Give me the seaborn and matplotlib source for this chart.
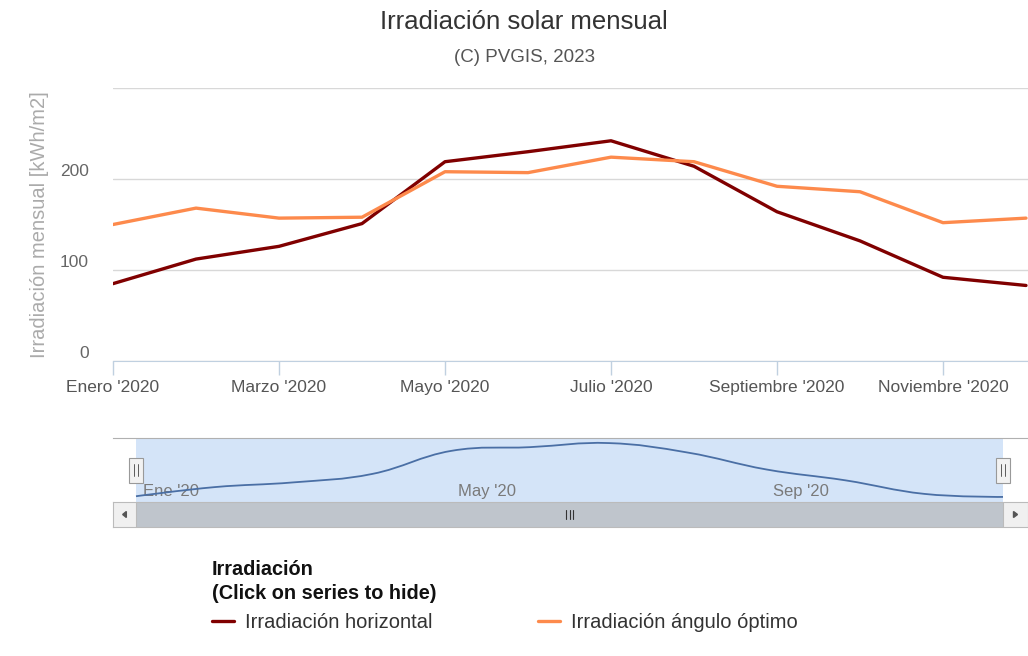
import numpy as np
import matplotlib
matplotlib.use('Agg')
import matplotlib.pyplot as plt
from matplotlib.patches import Rectangle, PathPatch, Polygon
from matplotlib.path import Path
import pandas as pd
import seaborn as sns

# datos mensuales (kWh/m2)
meses = ['Enero', 'Febrero', 'Marzo', 'Abril', 'Mayo', 'Junio', 'Julio',
         'Agosto', 'Septiembre', 'Octubre', 'Noviembre', 'Diciembre']
meses_nav = ["Ene '20", "May '20", "Sep '20"]
horizontal = [85, 112, 126, 151, 219, 230, 242, 214, 164, 132, 92, 83]
optimo = [150, 168, 157, 158, 208, 207, 224, 219, 192, 186, 152, 157]
series = ['Irradiación horizontal', 'Irradiación ángulo óptimo']
colores = ['#800000', '#fd8a4c']

sns.set_style('white')
plt.rcParams['font.family'] = ['Liberation Sans', 'DejaVu Sans']

W, H = 1028, 656
fig = plt.figure(figsize=(W / 100, H / 100), dpi=100)

def box(x0, y0, x1, y1):
    return [x0 / W, 1 - y1 / H, (x1 - x0) / W, (y1 - y0) / H]

idx = np.arange(len(meses))
df = pd.DataFrame({
    'mes': np.concatenate([idx, idx]),
    'valor': horizontal + optimo,
    'serie': [series[0]] * 12 + [series[1]] * 12,
})

# grafico principal
ax = fig.add_axes(box(113, 88, 1028, 361))
sns.lineplot(data=df, x='mes', y='valor', hue='serie', hue_order=series,
             palette=colores, linewidth=2.4, ax=ax, legend=False)
ax.set_xlim(0, 11 * 915 / 913)
ax.set_ylim(0, 300)
ax.set_yticks([0, 100, 200, 300])
ax.set_yticklabels(['0', '100', '200', ''])
ax.set_xticks(idx[::2])
ax.set_xticklabels([m + " '2020" for m in meses[::2]])
ax.grid(axis='y', color='#d8d8d8', lw=1)
ax.grid(axis='x', visible=False)
for s in ['left', 'top', 'right']:
    ax.spines[s].set_visible(False)
ax.spines['bottom'].set_color('#c0d0e0')
ax.tick_params(axis='x', bottom=True, length=10, width=1, color='#c0d0e0',
               pad=4, labelsize=12.5, labelcolor='#555555')
ax.tick_params(axis='y', left=False, pad=14, labelsize=12.5, labelcolor='#666666')
for lab in ax.get_yticklabels():
    lab.set_va('bottom')
ax.set_xlabel('')
ax.set_ylabel('Irradiación mensual [kWh/m2]', fontsize=14.5, color='#ababab', labelpad=8)

fig.text(524 / W, 1 - 22 / H, 'Irradiación solar mensual', ha='center', va='center',
         fontsize=18.5, color='#333333')
fig.text(525 / W, 1 - 58 / H, '(C) PVGIS, 2023', ha='center', va='center',
         fontsize=13.5, color='#555555')

# navegador
x_lo, x_hi = -23 * 11 / 867, 11 + 25 * 11 / 867
nav = fig.add_axes(box(113, 438, 1028, 502))
nav.set_xlim(x_lo, x_hi)
nav.set_ylim(68, 257)
nav.axvspan(0, 11, color='#d4e4f8', lw=0, zorder=0)
for s in ['left', 'right', 'bottom']:
    nav.spines[s].set_visible(False)
nav.spines['top'].set_color('#b0b0b0')
nav.set_xticks([])
nav.set_yticks([])

# curva suave del navegador (bezier a partir de los datos)
px = idx.astype(float)
py = np.array(horizontal, dtype=float)
lc, rc_ = [], []
for i in range(len(px)):
    if i == 0 or i == len(px) - 1:
        lc.append((px[i], py[i]))
        rc_.append((px[i], py[i]))
        continue
    lx = (1.5 * px[i] + px[i - 1]) / 2.5
    ly = (1.5 * py[i] + py[i - 1]) / 2.5
    rx = (1.5 * px[i] + px[i + 1]) / 2.5
    ry = (1.5 * py[i] + py[i + 1]) / 2.5
    corr = (ry - ly) * (rx - px[i]) / (rx - lx) + py[i] - ry
    lc.append((lx, ly + corr))
    rc_.append((rx, ry + corr))
verts = [(px[0], py[0])]
codes = [Path.MOVETO]
for i in range(1, len(px)):
    verts += [rc_[i - 1], lc[i], (px[i], py[i])]
    codes += [Path.CURVE4] * 3
nav.add_patch(PathPatch(Path(verts, codes), fc='none', ec='#4a6fa5', lw=1.3, zorder=3))

for k, lab in zip([0, 4, 8], meses_nav):
    nav.annotate(lab, (k, 0.17), xycoords=('data', 'axes fraction'),
                 xytext=(5, 0), textcoords='offset points', ha='left', va='center',
                 fontsize=12, color='#7a7a7a', zorder=2)

# tiradores
for k in [0, 11]:
    nav.add_patch(Rectangle((k - 0.09, 0.30), 0.18, 0.39, transform=nav.get_xaxis_transform(),
                            fc='#f2f2f2', ec='#999999', lw=0.8, zorder=4))
    for d in [-0.025, 0.025]:
        nav.plot([k + d, k + d], [0.40, 0.59], transform=nav.get_xaxis_transform(),
                 color='#444444', lw=0.6, zorder=5)

# barra de desplazamiento
sb = fig.add_axes(box(113, 502, 1028, 527))
sb.set_xlim(x_lo, x_hi)
sb.set_ylim(0, 1)
sb.axvspan(x_lo, x_hi, color='#eeeeee', lw=0)
sb.axvspan(0, 11, color='#bfc5cc', lw=0)
sb.axvspan(x_lo, 0, color='#f0f0f0', lw=0)
sb.axvspan(11, x_hi, color='#f0f0f0', lw=0)
for s in sb.spines.values():
    s.set_color('#bbbbbb')
sb.axvline(0, color='#bbbbbb', lw=0.8)
sb.axvline(11, color='#bbbbbb', lw=0.8)
sb.set_xticks([])
sb.set_yticks([])
for d in [-0.05, 0.0, 0.05]:
    sb.plot([5.5 + d, 5.5 + d], [0.32, 0.68], color='#333333', lw=0.8)
sb.add_patch(Polygon([(x_lo * 0.42, 0.38), (x_lo * 0.42, 0.62), (x_lo * 0.58, 0.5)],
                     closed=True, color='#555555'))
sb.add_patch(Polygon([(11 + (x_hi - 11) * 0.42, 0.38), (11 + (x_hi - 11) * 0.42, 0.62),
                      (11 + (x_hi - 11) * 0.58, 0.5)], closed=True, color='#555555'))

# leyenda
leg = fig.legend(handles=ax.lines[:2], labels=series, ncol=2,
                 loc='upper left', bbox_to_anchor=(202 / W, 1 - 550 / H),
                 frameon=False, title='Irradiación\n(Click on series to hide)',
                 title_fontproperties={'weight': 'bold', 'size': 14.3},
                 alignment='left', fontsize=14.5, handlelength=1.1,
                 handletextpad=0.55, columnspacing=5.2, borderpad=0)
for t in leg.get_texts():
    t.set_color('#333333')
leg.get_title().set_color('#111111')
leg.get_title().set_linespacing(1.35)

plt.savefig('out.png', dpi=100)
